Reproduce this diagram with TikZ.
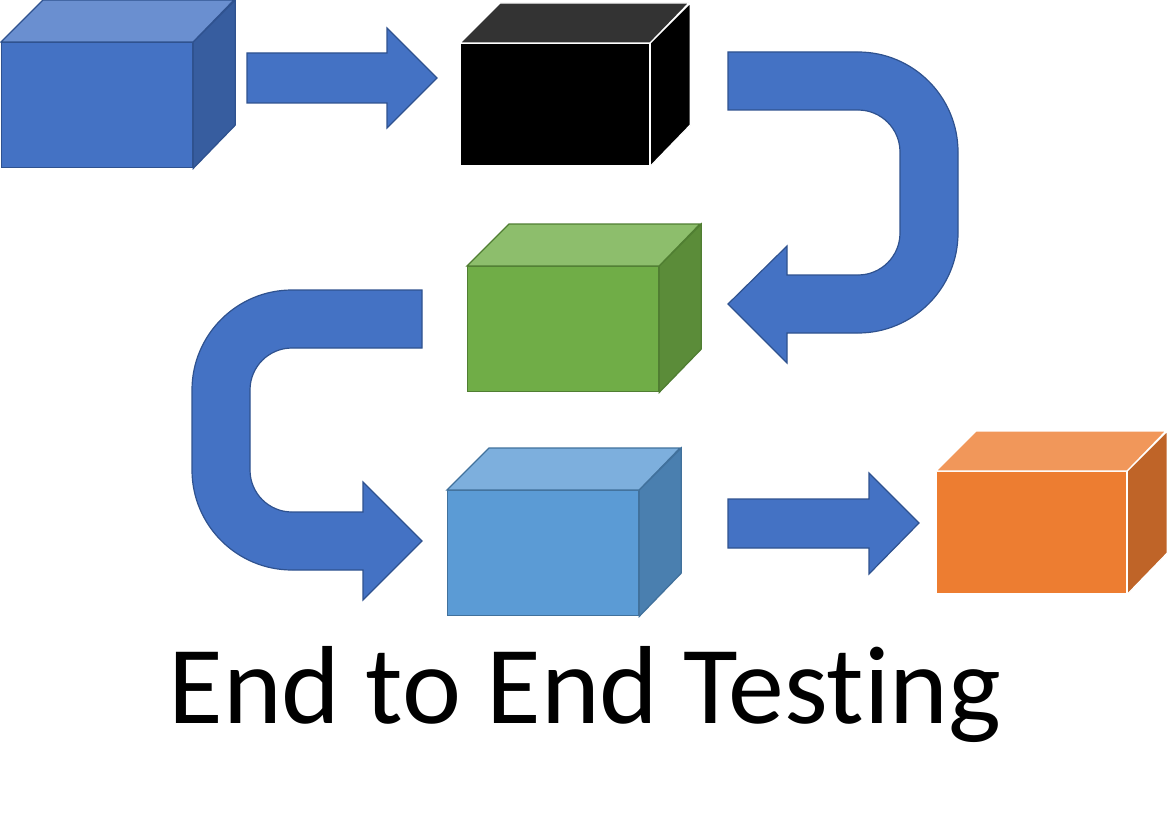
\documentclass[tikz,border=0pt]{standalone}
\usepackage{fontspec}
\newfontfamily\titlefont[Ligatures=NoCommon]{Carlito}
\definecolor{bfront}{HTML}{4472C4}
\definecolor{btop}{HTML}{6A8FD0}
\definecolor{bside}{HTML}{375D9F}
\definecolor{bline}{HTML}{2F528F}
\definecolor{ktop}{HTML}{333333}
\definecolor{gfront}{HTML}{70AD47}
\definecolor{gtop}{HTML}{8DBE6C}
\definecolor{gside}{HTML}{5B8C39}
\definecolor{gline}{HTML}{507E32}
\definecolor{lfront}{HTML}{5B9BD5}
\definecolor{ltop}{HTML}{7DAFDD}
\definecolor{lside}{HTML}{4A7FAF}
\definecolor{lline}{HTML}{41719C}
\definecolor{ofront}{HTML}{ED7D31}
\definecolor{otop}{HTML}{F1975A}
\definecolor{oside}{HTML}{BF6428}
\tikzset{
  face/.style={line width=1.3pt, line join=miter},
  bluefront/.style={face, draw=bline, fill=bfront},
  bluetop/.style={face, draw=bline, fill=btop},
  blueside/.style={face, draw=bline, fill=bside},
  blackfront/.style={face, draw=white, fill=black},
  blacktop/.style={face, draw=white, fill=ktop},
  blackside/.style={face, draw=white, fill=black},
  greenfront/.style={face, draw=gline, fill=gfront},
  greentop/.style={face, draw=gline, fill=gtop},
  greenside/.style={face, draw=gline, fill=gside},
  lightfront/.style={face, draw=lline, fill=lfront},
  lighttop/.style={face, draw=lline, fill=ltop},
  lightside/.style={face, draw=lline, fill=lside},
  orangefront/.style={face, draw=white, fill=ofront},
  orangetop/.style={face, draw=white, fill=otop},
  orangeside/.style={face, draw=white, fill=oside},
  blockarrow/.style={draw=bline, fill=bfront, line width=1.2pt, line join=miter},
}
% #1 name, #2 x, #3 y (top-left of front face), #4 width, #5 height, #6 depth, #7 colour prefix
\newcommand{\cubebox}[7]{%
  \node[#7front, inner sep=0pt, minimum width=#4pt, minimum height=#5pt, anchor=north west] (#1) at (#2,#3) {};
  \draw[#7top] (#1.north west) -- ++(#6,-#6) -- ++(#4,0) -- (#1.north east) -- cycle;
  \draw[#7side] (#1.north east) -- ++(#6,-#6) -- ++(0,#5) -- (#1.south east) -- cycle;
}
\begin{document}
\begin{tikzpicture}[x=1pt, y=-1pt]
\useasboundingbox (0,0) rectangle (1169,829);

% cubes
\cubebox{b1}{1}{42}{191}{125}{42}{blue}
\cubebox{b2}{460}{43}{189}{122}{40}{black}
\cubebox{b3}{467}{266}{191}{125}{42}{green}
\cubebox{b4}{447}{490}{191}{125}{42}{light}
\cubebox{b5}{936}{471}{190}{122}{40}{orange}

% straight arrow 1
\draw[blockarrow] (247,53) -- (387,53) -- (387,28) -- (437,78) -- (387,128) -- (387,103) -- (247,103) -- cycle;

% U-turn arrow 1
\draw[blockarrow] (728,52) -- (858,52) .. controls (913.2,52) and (958,96.8) .. (958,152)
  -- (958,233) .. controls (958,288.2) and (913.2,333) .. (858,333)
  -- (787,333) -- (787,363) -- (728,304) -- (787,246) -- (787,275) -- (858,275)
  .. controls (881.2,275) and (900,256.2) .. (900,233)
  -- (900,152) .. controls (900,128.8) and (881.2,110) .. (858,110)
  -- (728,110) -- cycle;

% U-turn arrow 2
\draw[blockarrow] (422,290) -- (292,290) .. controls (236.8,290) and (192,334.8) .. (192,390)
  -- (192,470) .. controls (192,525.2) and (236.8,570) .. (292,570)
  -- (363,570) -- (363,600) -- (422,541) -- (363,482) -- (363,512) -- (292,512)
  .. controls (268.8,512) and (250,493.2) .. (250,470)
  -- (250,390) .. controls (250,366.8) and (268.8,348) .. (292,348)
  -- (422,348) -- cycle;

% straight arrow 2
\draw[blockarrow] (728,499) -- (869,499) -- (869,473) -- (919,523) -- (869,574) -- (869,548) -- (728,548) -- cycle;

% title
\node[anchor=base, inner sep=0pt, text=black, xscale=1.008] (title) at (585,723) {\titlefont\fontsize{111}{133}\selectfont End to End Testing};
\end{tikzpicture}
\end{document}
